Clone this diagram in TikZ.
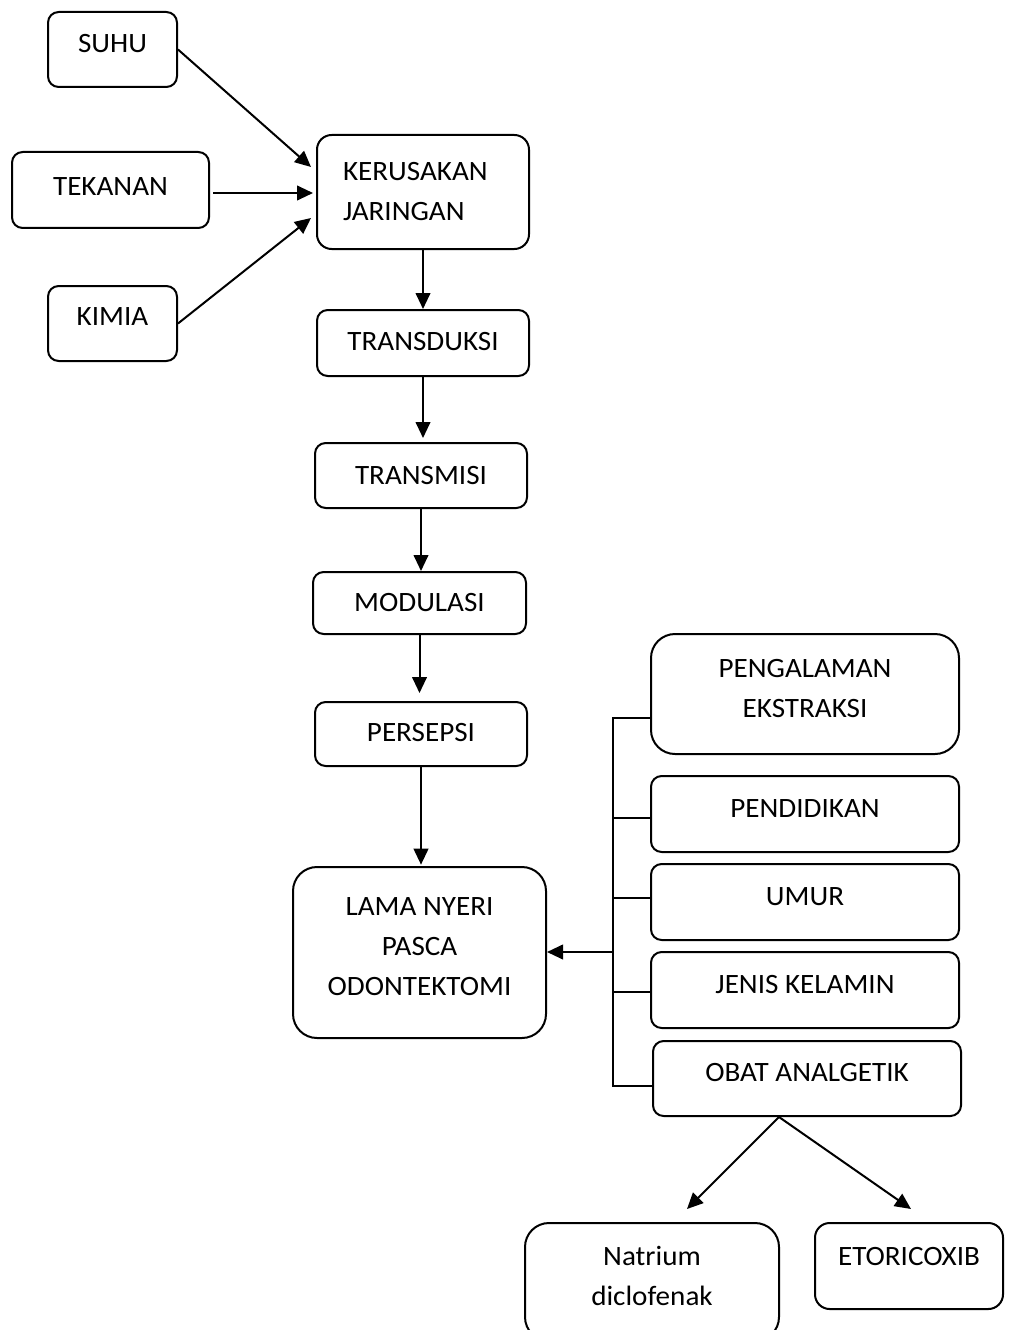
\documentclass[tikz,border=0pt]{standalone}
\usepackage{fontspec}
\setmainfont{Carlito}[FakeStretch=1.04]
\usetikzlibrary{arrows.meta,calc}
\tikzset{
  box/.style={draw, line width=1.5pt, inner sep=0pt, rounded corners=8pt,
    font=\fontsize{21}{30}\selectfont, text height=13.3pt, text depth=0pt},
  big/.style={rounded corners=18pt},
  mid/.style={rounded corners=11pt},
  arr/.style={line width=1.5pt, -{Triangle[length=12pt,width=11pt]}},
  link/.style={line width=1.5pt},
}
\begin{document}
\begin{tikzpicture}[x=0.75pt,y=-0.75pt]
\fill[white] (0,0) rectangle (1008,1330);
\useasboundingbox (0,0) rectangle (1008,1330);
\clip (0,0) rectangle (1008,1330);

% left inputs
\node[box, minimum width=96.75pt, minimum height=56.25pt, text depth=8.25pt] (suhu) at (112.5,49.5) {SUHU};
\node[box, minimum width=147.75pt, minimum height=57pt, text depth=4.5pt] (tekanan) at (110.5,190) {TEKANAN};
\node[box, minimum width=96.75pt, minimum height=56.25pt, text depth=9.75pt] (kimia) at (112.5,323.5) {KIMIA};

% main chain
\node[box, mid, minimum width=159pt, minimum height=85.5pt, text width=120pt, align=left, text depth=30pt] (kerusakan) at (423,192) {KERUSAKAN\\JARINGAN};
\node[box, minimum width=159pt, minimum height=49.5pt, text depth=1.5pt] (transduksi) at (423,343) {TRANSDUKSI};
\node[box, minimum width=159pt, minimum height=48.75pt] (transmisi) at (421,475.5) {TRANSMISI};
\node[box, minimum width=159.75pt, minimum height=46.5pt] (modulasi) at (419.5,603) {MODULASI};
\node[box, minimum width=159pt, minimum height=48pt, text depth=1.5pt] (persepsi) at (421,734) {PERSEPSI};
\node[box, big, minimum width=189.75pt, minimum height=128.25pt, text width=180pt, align=flush center, text depth=68.25pt] (lama) at (419.5,952.5) {LAMA NYERI\\PASCA\\ODONTEKTOMI};

% factors
\node[box, big, minimum width=231pt, minimum height=90pt, text width=200pt, align=flush center, text depth=37.5pt] (pengalaman) at (805,694) {PENGALAMAN\\EKSTRAKSI};
\node[box, minimum width=231pt, minimum height=57pt, text depth=7.5pt] (pendidikan) at (805,814) {PENDIDIKAN};
\node[box, minimum width=231pt, minimum height=57pt, text depth=7.5pt] (umur) at (805,902) {UMUR};
\node[box, minimum width=231pt, minimum height=57pt, text depth=7.5pt] (jenis) at (805,990) {JENIS KELAMIN};
\node[box, minimum width=231pt, minimum height=56.25pt, text depth=8.25pt] (obat) at (807,1078.5) {OBAT ANALGETIK};

% drugs
\node[box, big, minimum width=190.5pt, minimum height=88.5pt, text width=180pt, align=flush center, text depth=37.5pt] (natrium) at (652,1282) {Natrium\\diclofenak};
\node[box, mid, minimum width=141pt, minimum height=64.5pt, text depth=13.5pt] (etoricoxib) at (909,1266) {ETORICOXIB};

% input arrows
\draw[arr] (suhu.east) -- ($(kerusakan.west)+(-5,-25)$);
\draw[arr] ($(tekanan.east)+(3,3)$) -- ($(kerusakan.west)+(-3,1)$);
\draw[arr] (kimia.east) -- ($(kerusakan.west)+(-5,26)$);

% chain arrows
\draw[arr] (kerusakan.south) -- (transduksi.north);
\draw[arr, shorten >=3pt] (transduksi.south) -- (transduksi.south |- transmisi.north);
\draw[arr] (transmisi.south) -- (transmisi.south |- modulasi.north);
\draw[arr, shorten >=6pt] (modulasi.south) -- (modulasi.south |- persepsi.north);
\draw[arr, shorten >=1pt] (persepsi.south) -- (persepsi.south |- lama.north);

% bracket of factors
\coordinate (bus) at (613,952);
\draw[link] ($(pengalaman.west)+(0,24)$) -| (bus) |- ($(obat.west)+(0,7.5)$);
\path ($(pendidikan.west)+(0,4)$) coordinate (t2);
\path ($(umur.west)+(0,-4)$) coordinate (t3);
\path ($(jenis.west)+(0,2)$) coordinate (t4);
\draw[link] (t2) -- (t2 -| bus);
\draw[link] (t3) -- (t3 -| bus);
\draw[link] (t4) -- (t4 -| bus);
\draw[arr] (bus) -- (bus -| lama.east);

% drug arrows
\coordinate (apex) at ($(obat.south)+(-28,0)$);
\draw[arr] (apex) -- ($(natrium.north)+(35,-13)$);
\draw[arr] (apex) -- ($(etoricoxib.north)+(2,-13)$);
\end{tikzpicture}
\end{document}
